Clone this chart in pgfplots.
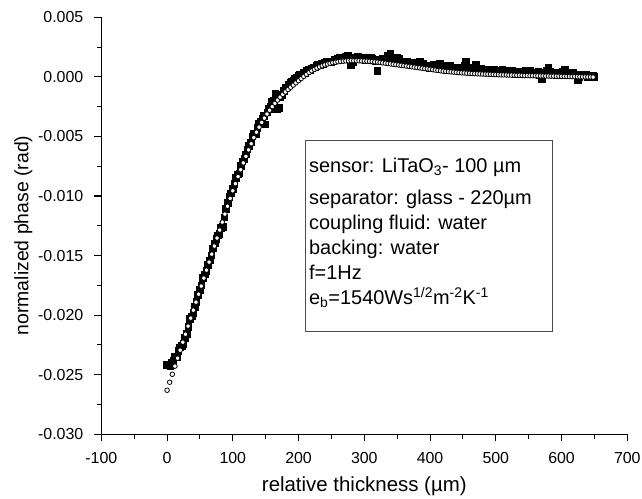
\documentclass[border=0pt]{standalone}
\usepackage{pgfplots}
\pgfplotsset{compat=1.18}
\usepackage{fontspec}
\setmainfont{Liberation Sans}

% phase values are given in units of 1e-3 rad; the tick labels carry the real values
\pgfplotstableread{
x y
0 -26.30
4 -25.63
8 -24.96
12 -24.28
16 -23.61
20 -22.94
24 -22.27
28 -21.60
32 -20.92
36 -20.25
40 -19.58
44 -18.91
48 -18.24
52 -17.56
56 -16.89
60 -16.22
64 -15.55
68 -14.88
72 -14.20
76 -13.53
80 -12.86
84 -12.19
88 -11.52
92 -10.86
96 -10.20
100 -9.56
104 -8.96
108 -8.37
112 -7.79
116 -7.22
120 -6.67
124 -6.13
128 -5.61
132 -5.10
136 -4.64
140 -4.22
144 -3.82
148 -3.46
152 -3.12
156 -2.80
160 -2.50
164 -2.22
168 -1.95
172 -1.70
176 -1.47
180 -1.26
184 -1.06
188 -0.87
192 -0.69
196 -0.50
200 -0.32
204 -0.14
208 0.04
212 0.21
216 0.37
220 0.51
224 0.63
228 0.74
232 0.84
236 0.93
240 1.01
244 1.08
248 1.14
252 1.19
256 1.23
260 1.27
264 1.30
268 1.32
272 1.34
276 1.35
280 1.36
284 1.36
288 1.36
292 1.35
296 1.34
300 1.33
304 1.32
308 1.30
312 1.28
316 1.26
320 1.24
324 1.21
328 1.18
332 1.15
336 1.12
340 1.09
344 1.06
348 1.03
352 1.00
356 0.97
360 0.94
364 0.91
368 0.88
372 0.85
376 0.82
380 0.79
384 0.76
388 0.73
392 0.70
396 0.67
400 0.64
404 0.61
408 0.57
412 0.54
416 0.51
420 0.48
424 0.46
428 0.44
432 0.42
436 0.40
440 0.38
444 0.36
448 0.34
452 0.33
456 0.31
460 0.30
464 0.28
468 0.27
472 0.26
476 0.25
480 0.24
484 0.23
488 0.22
492 0.21
496 0.20
500 0.19
504 0.18
508 0.17
512 0.17
516 0.16
520 0.15
524 0.15
528 0.14
532 0.13
536 0.13
540 0.12
544 0.11
548 0.11
552 0.10
556 0.10
560 0.09
564 0.09
568 0.08
572 0.08
576 0.07
580 0.07
584 0.06
588 0.06
592 0.05
596 0.05
600 0.04
604 0.04
608 0.03
612 0.03
616 0.02
620 0.02
624 0.01
628 0.01
632 0.00
636 0.00
640 -0.01
644 -0.01
648 -0.02
}\fitdata

\pgfplotstableread{
x y
0 -24.2
2.5 -24.2
5 -24.3
7.5 -24.0
10 -23.8
12.5 -23.5
15 -23.5
17.5 -23.0
20 -22.7
22.5 -22.6
25 -22.4
27.5 -21.9
30 -21.6
32.5 -21.0
35 -20.3
37.5 -20.1
40 -19.8
42.5 -19.3
45 -18.9
47.5 -18.3
50 -17.9
52.5 -17.5
55 -16.9
57.5 -16.6
60 -16.3
62.5 -15.8
65 -15.4
67.5 -15.0
70 -14.4
72.5 -14.0
75 -13.6
77.5 -13.3
80 -13.2
82.5 -12.7
85 -12.6
87.5 -11.8
90 -11.1
92.5 -10.6
95 -10.1
97.5 -9.8
100 -9.4
102.5 -9.0
105 -8.5
107.5 -8.2
110 -8.1
112.5 -7.5
115 -7.1
117.5 -6.9
120 -6.5
122.5 -6.1
125 -5.8
127.5 -5.5
130 -5.0
132.5 -4.8
135 -4.8
137.5 -4.3
140 -3.9
142.5 -3.8
145 -3.5
147.5 -3.3
150 -4.0
152.5 -3.0
155 -2.7
157.5 -2.5
160 -2.1
162.5 -2.0
165 -1.4
167.5 -2.7
170 -2.6
172.5 -1.7
175 -1.5
177.5 -1.2
180 -0.9
182.5 -0.9
185 -0.7
187.5 -0.5
190 -0.4
192.5 -0.3
195 -0.2
197.5 -0.1
200 0.1
202.5 0.2
205 0.2
207.5 0.3
210 0.3
212.5 0.5
215 0.6
217.5 0.6
220 0.7
222.5 0.8
225 0.8
227.5 0.9
230 1.0
232.5 1.0
235 1.1
237.5 1.1
240 1.2
242.5 1.3
245 1.3
247.5 1.2
250 1.2
252.5 1.3
255 1.4
257.5 1.4
260 1.5
262.5 1.6
265 1.5
267.5 1.5
270 1.6
272.5 1.7
275 1.8
277.5 1.6
280 1.0
282.5 1.2
285 1.6
287.5 1.5
290 1.7
292.5 1.6
295 1.5
297.5 1.5
300 1.6
302.5 1.4
305 1.5
307.5 1.5
310 1.6
312.5 1.5
315 1.4
317.5 1.3
320 0.5
322.5 1.4
325 1.4
327.5 1.5
330 1.5
332.5 1.4
335 1.8
337.5 1.6
340 1.9
342.5 1.5
345 1.4
347.5 1.4
350 1.6
352.5 1.5
355 1.3
357.5 1.2
360 1.2
362.5 1.1
365 1.3
367.5 1.2
370 1.1
372.5 1.0
375 1.2
377.5 1.1
380 1.0
382.5 1.1
385 1.3
387.5 1.0
390 1.1
392.5 0.9
395 0.9
397.5 0.8
400 0.7
402.5 0.9
405 1.0
407.5 0.8
410 0.9
412.5 0.9
415 1.1
417.5 0.8
420 0.8
422.5 0.9
425 0.7
427.5 0.6
430 0.9
432.5 0.7
435 0.6
437.5 0.8
440 0.7
442.5 0.6
445 0.8
447.5 0.7
450 0.6
452.5 0.9
455 1.3
457.5 0.8
460 0.7
462.5 0.5
465 0.6
467.5 0.7
470 1.0
472.5 0.6
475 0.5
477.5 0.7
480 0.6
482.5 0.5
485 0.4
487.5 0.5
490 0.6
492.5 0.4
495 0.5
497.5 0.6
500 0.3
502.5 0.4
505 0.5
507.5 0.4
510 0.6
512.5 0.5
515 0.4
517.5 0.3
520 0.3
522.5 0.4
525 0.5
527.5 0.4
530 0.2
532.5 0.3
535 0.4
537.5 0.2
540 0.3
542.5 0.4
545 0.5
547.5 0.3
550 0.4
552.5 0.5
555 0.3
557.5 0.2
560 0.2
562.5 0.3
565 0.4
567.5 0.1
570 -0.2
572.5 0.2
575 0.3
577.5 0.5
580 0.8
582.5 0.4
585 0.2
587.5 0.3
590 0.3
592.5 0.2
595 0.1
597.5 0.3
600 0.2
602.5 0.4
605 0.6
607.5 0.2
610 0.3
612.5 0.2
615 0.1
617.5 0.3
620 0.2
622.5 0.1
625 -0.3
627.5 0.0
630 0.2
632.5 0.1
635 0.1
637.5 0.2
640 0.0
642.5 0.0
645 0.1
647.5 0.1
650 0.0
}\measdata

\begin{document}
\begin{tikzpicture}
\begin{axis}[
  scale only axis, width=526bp, height=417bp,
  xmin=-100, xmax=700, ymin=-30, ymax=5,
  axis x line*=bottom, axis y line*=left,
  axis line style={line width=1.1bp, black},
  xtick={-100,0,...,700},
  xticklabels={-100,0,100,200,300,400,500,600,700},
  ytick={-30,-25,...,5},
  yticklabels={-0.030,-0.025,-0.020,-0.015,-0.010,-0.005,0.000,0.005},
  minor x tick num=1, minor y tick num=1,
  tick align=outside,
  major tick length=7bp, minor tick length=4.5bp,
  tick style={black, line width=1.1bp},
  tick label style={font=\fontsize{16}{19}\selectfont},
  xticklabel style={yshift=-8bp},
  yticklabel style={xshift=-7.5bp},
  xlabel={relative thickness (µm)},
  ylabel={normalized phase (rad)},
  xlabel style={font=\fontsize{20.5}{24}\selectfont,
    at={(axis description cs:0.5,-0.1367)}, anchor=base},
  ylabel style={font=\fontsize{19.5}{23}\selectfont,
    at={(axis description cs:-0.1388,0.477)}, anchor=base},
  clip=false,
]
\coordinate (bl) at (rel axis cs:0,0);
\coordinate (tr) at (rel axis cs:1,1);

% measured points
\addplot[only marks, mark=square*, mark size=3.3bp,
  mark options={fill=black, draw=black, line width=0pt}] table {\measdata};
% fitted curve: white-filled open circles
\addplot[only marks, mark=*, mark size=2.3bp,
  mark options={fill=white, draw=black, line width=0.8bp}] table {\fitdata};

% parameter box
\draw[black!70, line width=0.9bp] (axis cs:210.5,-5.35) rectangle (axis cs:586.4,-21.4);
\begin{scope}[every node/.style={anchor=base west, inner sep=0pt,
    font=\fontsize{20}{24}\selectfont}]
\node at (axis cs:215.8,-8.04) {sensor: LiTaO\textsubscript{3}- 100 µm};
\node at (axis cs:215.8,-10.73) {separator: glass - 220µm};
\node at (axis cs:215.8,-12.83) {coupling fluid: water};
\node at (axis cs:215.8,-14.93) {backing: water};
\node at (axis cs:215.8,-17.03) {f=1Hz};
\node at (axis cs:215.8,-19.13) {e\textsubscript{b}=1540Ws\textsuperscript{1/2}m\textsuperscript{-2}K\textsuperscript{-1}};
\end{scope}
\end{axis}
\pgfresetboundingbox
\useasboundingbox ([shift={(-101.3bp,-63.7bp)}]bl) rectangle ([shift={(14.7bp,17.3bp)}]tr);
\end{tikzpicture}
\end{document}
